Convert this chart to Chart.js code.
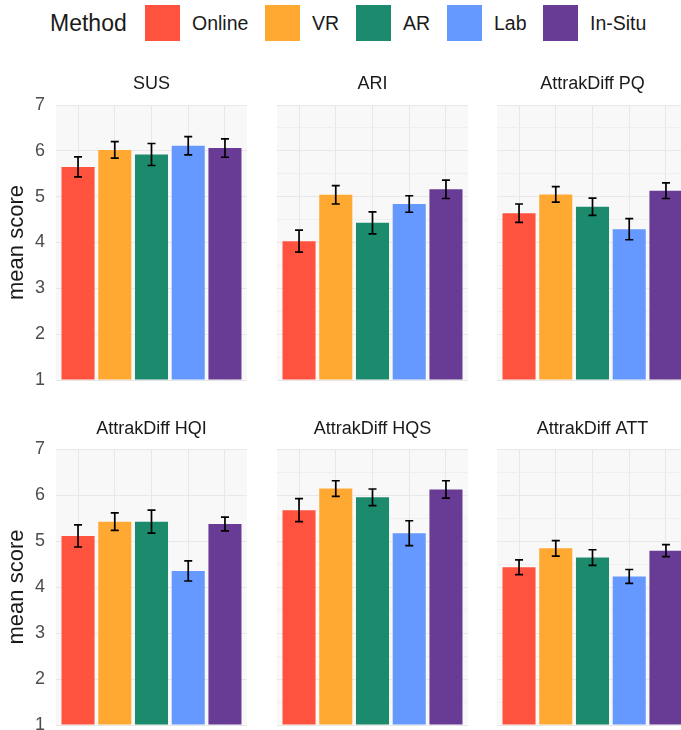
<!DOCTYPE html>
<html>
<head>
<meta charset="utf-8">
<script src="https://cdn.jsdelivr.net/npm/chart.js@4/dist/chart.umd.min.js"></script>
<style>
  html, body { margin: 0; padding: 0; overflow: hidden; background: #ffffff; width: 681px; height: 730px; }
  #fig { position: relative; width: 681px; height: 730px; overflow: hidden; font-family: "Liberation Sans", Arial, sans-serif; }
  .panel { position: absolute; }
  .leg { position: absolute; white-space: nowrap; line-height: 1; color: #1a1a1a; }
  .key { position: absolute; top: 5px; width: 35px; height: 36px; }
</style>
</head>
<body>
<div id="fig">
  <div id="legend"></div>
</div>
<script>
// Study conditions (x categories) and their fill colours
const methods = ['Online', 'VR', 'AR', 'Lab', 'In-Situ'];
const methodColors = ['#FF5340', '#FFA932', '#1C8A6C', '#6699FF', '#683B94'];

// Questionnaire measures, one facet each
const measures = ['SUS', 'ARI', 'AttrakDiff PQ', 'AttrakDiff HQI', 'AttrakDiff HQS', 'AttrakDiff ATT'];

// Mean score and standard error per method
const susMean = [5.65, 6.02, 5.92, 6.11, 6.06];
const susErr  = [0.22, 0.18, 0.24, 0.20, 0.20];
const ariMean = [4.03, 5.04, 4.43, 4.84, 5.16];
const ariErr  = [0.24, 0.20, 0.24, 0.18, 0.20];
const pqMean  = [4.64, 5.05, 4.78, 4.29, 5.13];
const pqErr   = [0.20, 0.17, 0.19, 0.23, 0.17];
const hqiMean = [5.11, 5.42, 5.42, 4.35, 5.37];
const hqiErr  = [0.24, 0.19, 0.25, 0.22, 0.15];
const hqsMean = [5.67, 6.14, 5.95, 5.17, 6.12];
const hqsErr  = [0.25, 0.17, 0.18, 0.27, 0.19];
const attMean = [4.43, 4.84, 4.64, 4.23, 4.79];
const attErr  = [0.16, 0.17, 0.17, 0.15, 0.13];

// Y axis tick labels (Likert 1..7)
const yTicks = [1, 2, 3, 4, 5, 6, 7];

const FONT = '"Liberation Sans", Arial, sans-serif';

// ---- legend (HTML) ----
const legend = document.getElementById('legend');
const legTitle = document.createElement('div');
legTitle.className = 'leg';
legTitle.textContent = 'Method';
legTitle.style.cssText = 'left:50px;top:12px;font-size:23px;';
legend.appendChild(legTitle);
const keyLeft = [145, 265, 356, 447, 543];
methods.forEach((m, i) => {
  const k = document.createElement('div');
  k.className = 'key';
  k.style.left = keyLeft[i] + 'px';
  k.style.background = methodColors[i];
  legend.appendChild(k);
  const t = document.createElement('div');
  t.className = 'leg';
  t.textContent = m;
  t.style.cssText = 'left:' + (keyLeft[i] + 47) + 'px;top:13.5px;font-size:19.5px;';
  legend.appendChild(t);
});

// ---- facet panels ----
const panelData = [
  [susMean, susErr], [ariMean, ariErr], [pqMean, pqErr],
  [hqiMean, hqiErr], [hqsMean, hqsErr], [attMean, attErr]
];

const colLeft = [56, 277, 497];
const PANEL_W = 191;
const AXIS_W = 56;
const BOTTOM_PAD = 14;
const rows = [
  { canvasTop: 60,  panelTop: 105, panelBottom: 380, titleGap: 21 },
  { canvasTop: 400, panelTop: 449, panelBottom: 725, titleGap: 19.5 }
];

// minor grid positions halfway between labelled ticks
const gridValues = [];
yTicks.forEach((v, i) => {
  gridValues.push(v);
  if (i < yTicks.length - 1) gridValues.push((v + yTicks[i + 1]) / 2);
});

const panelBg = {
  id: 'panelBg',
  beforeDraw(chart) {
    const a = chart.chartArea, c = chart.ctx;
    c.save();
    c.fillStyle = '#f8f8f8';
    c.fillRect(a.left, a.top, a.right - a.left, a.bottom - a.top);
    c.restore();
  }
};

// facet strip label centred over the panel
const stripLabel = {
  id: 'stripLabel',
  afterDraw(chart, args, opts) {
    const a = chart.chartArea, c = chart.ctx;
    c.save();
    c.fillStyle = '#1a1a1a';
    c.font = '18px ' + FONT;
    c.textAlign = 'center';
    c.textBaseline = 'middle';
    c.fillText(opts.text, (a.left + a.right) / 2, a.top - opts.gap);
    c.restore();
  }
};

const errorBars = {
  id: 'errorBars',
  afterDatasetsDraw(chart) {
    const ds = chart.data.datasets[0];
    const meta = chart.getDatasetMeta(0);
    const y = chart.scales.y;
    const c = chart.ctx;
    c.save();
    c.strokeStyle = '#000000';
    c.lineWidth = 1.7;
    meta.data.forEach((bar, i) => {
      const m = ds.data[i].y, e = ds.errors[i];
      const yTop = y.getPixelForValue(m + e);
      const yBot = y.getPixelForValue(m - e);
      const x = bar.x, hw = 4;
      c.beginPath();
      c.moveTo(x, yTop); c.lineTo(x, yBot);
      c.moveTo(x - hw, yTop); c.lineTo(x + hw, yTop);
      c.moveTo(x - hw, yBot); c.lineTo(x + hw, yBot);
      c.stroke();
    });
    c.restore();
  }
};

function zeroPadding(s) {
  s.paddingTop = 0; s.paddingBottom = 0; s.paddingLeft = 0; s.paddingRight = 0;
}

measures.forEach((name, idx) => {
  const row = rows[Math.floor(idx / 3)];
  const col = idx % 3;
  const showAxis = col === 0;
  const left = showAxis ? colLeft[0] - AXIS_W : colLeft[col];
  const width = showAxis ? PANEL_W + AXIS_W : PANEL_W;
  const height = row.panelBottom - row.canvasTop + BOTTOM_PAD;

  const wrap = document.createElement('div');
  wrap.className = 'panel';
  wrap.style.left = left + 'px';
  wrap.style.top = row.canvasTop + 'px';
  wrap.style.width = width + 'px';
  wrap.style.height = height + 'px';
  const cv = document.createElement('canvas');
  cv.width = width; cv.height = height;
  cv.style.width = width + 'px'; cv.style.height = height + 'px';
  wrap.appendChild(cv);
  document.getElementById('fig').appendChild(wrap);

  const [mean, err] = panelData[idx];

  new Chart(cv.getContext('2d'), {
    type: 'bar',
    data: {
      datasets: [{
        data: mean.map((v, i) => ({ x: i, y: v })),
        errors: err,
        backgroundColor: methodColors,
        borderWidth: 0,
        base: 1,
        barPercentage: 0.9,
        categoryPercentage: 1
      }]
    },
    options: {
      responsive: false,
      animation: false,
      devicePixelRatio: 1,
      layout: { padding: { top: row.panelTop - row.canvasTop, bottom: BOTTOM_PAD, left: 0, right: 0 } },
      events: [],
      plugins: {
        legend: { display: false },
        tooltip: { enabled: false },
        title: { display: false },
        stripLabel: { text: name, gap: row.titleGap }
      },
      scales: {
        x: {
          type: 'linear',
          offset: false,
          min: -0.6,
          max: 4.6,
          afterBuildTicks: s => { s.ticks = methods.map((m, i) => ({ value: i })); },
          afterFit: s => { s.height = 0; zeroPadding(s); },
          ticks: { display: false },
          grid: { color: '#e8e8e8', lineWidth: 1, drawTicks: false, offset: false },
          border: { display: false }
        },
        y: {
          min: 1,
          max: 7,
          afterBuildTicks: s => { s.ticks = gridValues.map(v => ({ value: v })); },
          afterFit: s => { s.width = showAxis ? AXIS_W : 0; zeroPadding(s); },
          ticks: {
            display: showAxis,
            padding: 11,
            color: '#4d4d4d',
            font: { family: FONT, size: 18 },
            callback: v => (yTicks.includes(v) ? String(v) : '')
          },
          grid: {
            drawTicks: false,
            lineWidth: 1,
            color: c => (yTicks.includes(c.tick.value) ? '#e8e8e8' : '#efefef')
          },
          border: { display: false },
          title: {
            display: showAxis,
            text: 'mean score',
            color: '#1a1a1a',
            font: { family: FONT, size: 22 },
            padding: { top: 4, bottom: 0 }
          }
        }
      }
    },
    plugins: [panelBg, errorBars, stripLabel]
  });
});
</script>
</body>
</html>
